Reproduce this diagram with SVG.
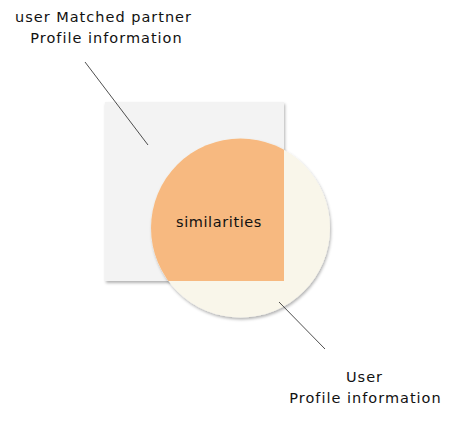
<svg xmlns="http://www.w3.org/2000/svg" width="456" height="426" viewBox="0 0 456 426">
<style>
.lbl{font-family:"DejaVu Sans","Liberation Sans",sans-serif;font-size:14.5px;fill:#111;text-anchor:middle;letter-spacing:1px}
.sim{letter-spacing:0.6px;font-weight:500}
.line{stroke:#222;stroke-width:0.8;fill:none}
</style>
<defs>
<filter id="sh" x="-20%" y="-20%" width="140%" height="140%">
<feDropShadow dx="1" dy="2" stdDeviation="1.5" flood-color="#000" flood-opacity="0.3"/>
</filter>
<clipPath id="sq"><rect x="105" y="102" width="179" height="179"/></clipPath>
</defs>
<rect width="456" height="426" fill="#fff"/>
<g id="partner">
<rect x="105" y="102" width="179" height="179" fill="#f3f3f3" filter="url(#sh)"/>
</g>
<g id="user">
<circle cx="240.5" cy="228" r="89.5" fill="#f9f6ea" filter="url(#sh)"/>
</g>
<g id="similarities">
<circle cx="240.5" cy="228" r="89.5" fill="#f7b980" clip-path="url(#sq)"/>
<text class="lbl sim" x="219" y="227">similarities</text>
</g>
<g id="connectors">
<line class="line" x1="85" y1="62" x2="148" y2="145"/>
<line class="line" x1="279" y1="302" x2="325" y2="349"/>
</g>
<g id="labels">
<text class="lbl" x="103.5" y="22">user Matched partner</text>
<text class="lbl" x="106.5" y="43">Profile information</text>
<text class="lbl" x="364.5" y="382">User</text>
<text class="lbl" x="365.5" y="403">Profile information</text>
</g>
</svg>
